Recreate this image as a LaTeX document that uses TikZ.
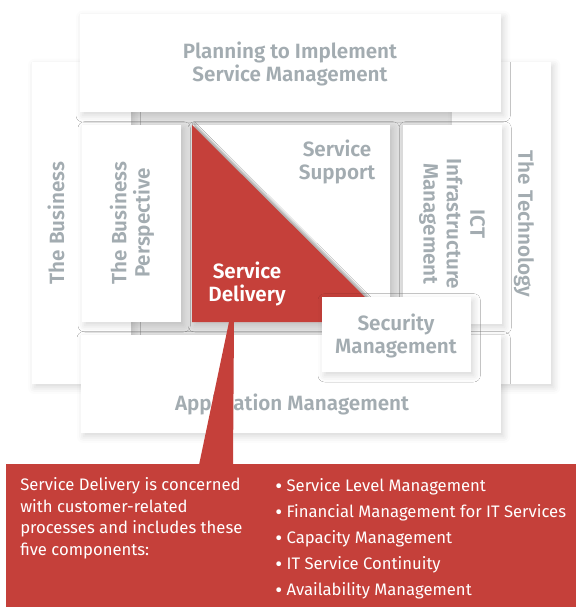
\documentclass[tikz,border=0pt]{standalone}
\usepackage{fontspec}
\setmainfont{Fira Sans}[BoldFont={Fira Sans SemiBold}]
\usetikzlibrary{shadows.blur}

\definecolor{itilred}{HTML}{C5403A}
\definecolor{itilgray}{HTML}{A3ACB1}
\definecolor{panelgray}{HTML}{E2E2E2}

\newcommand{\itembullet}{\raisebox{-1.6pt}{\fontsize{16}{19.5}\selectfont\textbullet}\ }

\begin{document}
\begin{tikzpicture}[x=0.75pt,y=-0.75pt,
  card/.style={fill=white,blur shadow={shadow xshift=2pt,shadow yshift=-2.5pt,
    shadow blur radius=5pt,shadow opacity=16}},
  boxlabel/.style={text=itilgray,font=\fontsize{15.5}{17.5}\selectfont\bfseries,
    align=center,inner sep=0pt},
  calltext/.style={text=white,font=\fontsize{12.5}{16.3}\selectfont,
    align=left,inner sep=0pt}]

\useasboundingbox (0,0) rectangle (576,607);

% grey panel behind the middle row
\fill[panelgray] (131,100) rectangle (452,345);

% outer columns and the top band
\path[card] (32,62) rectangle (131,384);
\path[card] (452,62) rectangle (551,384);
\path[card] (80,14) rectangle (501,112);

% middle row
\path[card] (82,125) rectangle (181,322);
\path[card] (192,125) rectangle (390,322);
\path[card] (403,125) rectangle (502,324);

\path[card] (81,335) rectangle (501,433);

% service delivery half of the centre box
\fill[itilred,blur shadow={shadow xshift=1.5pt,shadow yshift=1.5pt,
  shadow blur radius=1pt,shadow opacity=30}] (192,125) -- (390,322) -- (192,322) -- cycle;

\path[card] (322,297) rectangle (471,372);

\node[boxlabel] (planning) at (290,64) {Planning to Implement\\Service Management};
\node[boxlabel,rotate=90] (business) at (56,223) {The Business};
\node[boxlabel,rotate=90] (perspective) at (132,223) {The Business\\Perspective};
\node[boxlabel] (support) at (337,162) {Service\\Support};
\node[boxlabel,text=white] (delivery) at (247,284) {Service\\Delivery};
\node[boxlabel,rotate=-90] (ict) at (452,224) {ICT\\Infrastructure\\Management};
\node[boxlabel,rotate=-90] (technology) at (524,224) {The Technology};
\node[boxlabel] (security) at (396,336) {Security\\Management};
\node[boxlabel] (application) at (292,404) {Application Management};

% callout with its pointer
\fill[itilred] (229,322) -- (234,322) -- (233,465) -- (199,465) -- cycle;
\fill[itilred] (6,464) rectangle (576,607);

\node[calltext,anchor=north west] (intro) at (20,477)
  {Service Delivery is concerned\\with customer-related\\processes and includes these\\five components:};
\node[calltext,anchor=north west,font=\fontsize{12.5}{19.5}\selectfont] (components) at (275,478)
  {\itembullet Service Level Management\\
   \itembullet Financial Management for IT Services\\
   \itembullet Capacity Management\\
   \itembullet IT Service Continuity\\
   \itembullet Availability Management};

\end{tikzpicture}
\end{document}
